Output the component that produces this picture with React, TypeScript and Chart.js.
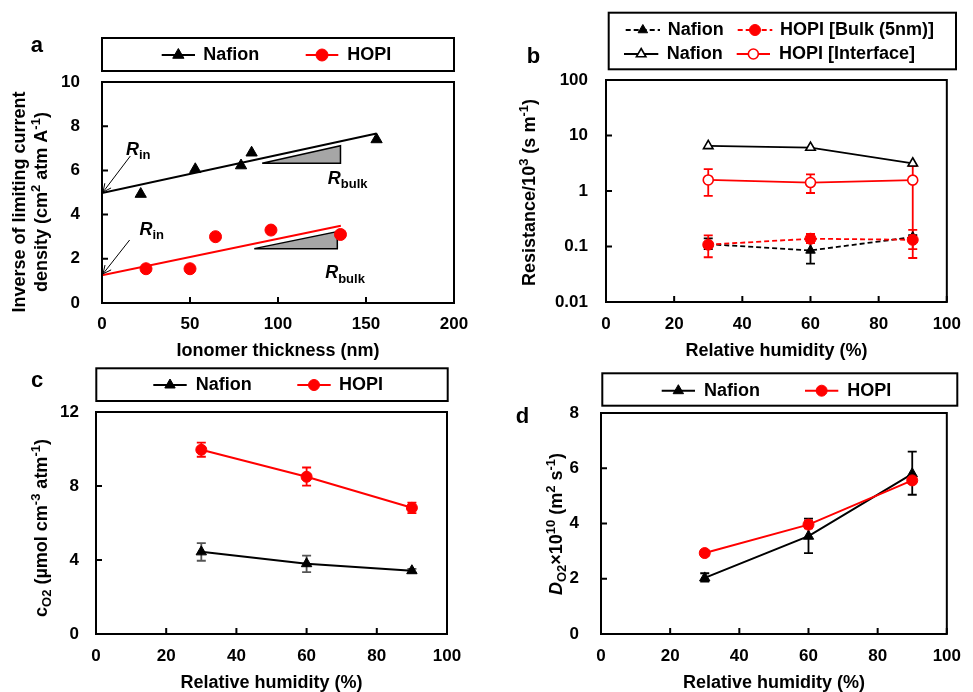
import React, { useEffect, useRef } from 'react';
import { Chart, registerables } from 'chart.js';

Chart.register(...registerables);

const FAM = "'Liberation Sans', Arial, Helvetica, sans-serif";
const RED = '#ff0000';
const BLACK = '#000000';
const GREY_FILL = '#a6a6a6';

// ---------------- Panel a : inverse of limiting current density vs ionomer thickness ----------------
const aNafionThickness = [22, 53, 79, 85, 156];
const aNafionInverse = [4.93, 6.05, 6.22, 6.8, 7.4];
const aHopiThickness = [25, 50, 64.5, 96, 135.5];
const aHopiInverse = [1.55, 1.55, 3.0, 3.3, 3.1];
const aNafionFitThickness = [0, 156];
const aNafionFitInverse = [4.98, 7.67];
const aHopiFitThickness = [0, 135.7];
const aHopiFitInverse = [1.25, 3.5];
const aNafionSlopeThickness = [91, 135.5];
const aNafionSlopeInverse = [6.32, 7.12];
const aHopiSlopeThickness = [86.5, 133.7];
const aHopiSlopeInverse = [2.46, 3.23];

// ---------------- Panel b : resistance vs relative humidity (log) ----------------
const humidity = [30, 60, 90];
const bNafionBulk = [0.11, 0.085, 0.148];
const bNafionBulkLow = [0.09, 0.049, 0.13];
const bNafionBulkHigh = [0.14, 0.13, 0.16];
const bHopiBulk = [0.108, 0.138, 0.132];
const bHopiBulkLow = [0.064, 0.115, 0.09];
const bHopiBulkHigh = [0.158, 0.168, 0.2];
const bNafionInterface = [6.5, 6.07, 3.16];
const bHopiInterface = [1.58, 1.42, 1.57];
const bHopiInterfaceLow = [0.82, 0.92, 0.062];
const bHopiInterfaceHigh = [2.47, 2.0, 2.8];
const bYTicks = [0.01, 0.1, 1, 10, 100];

// ---------------- Panel c : oxygen solubility ----------------
const cNafion = [4.44, 3.8, 3.42];
const cNafionLow = [3.96, 3.35, 3.32];
const cNafionHigh = [4.91, 4.24, 3.52];
const cHopi = [9.96, 8.5, 6.82];
const cHopiLow = [9.58, 8.02, 6.53];
const cHopiHigh = [10.34, 9.0, 7.1];

// ---------------- Panel d : oxygen diffusivity ----------------
const dNafion = [2.03, 3.54, 5.8];
const dNafionLow = [1.9, 2.93, 5.04];
const dNafionHigh = [2.2, 4.18, 6.6];
const dHopi = [2.93, 3.96, 5.56];
const dHopiLow = [2.83, 3.82, 5.45];
const dHopiHigh = [3.03, 4.1, 5.67];

// ---------------- helpers ----------------
type Seg = { t: string; sup?: boolean; sub?: boolean; it?: boolean };

const pts = (xs: number[], ys: number[]) => xs.map((x, i) => ({ x, y: ys[i] }));
const slope = (xs: number[], ys: number[]) => [
  { x: xs[0], y: ys[0] },
  { x: xs[1], y: ys[1] },
  { x: xs[1], y: ys[0] },
  { x: xs[0], y: ys[0] },
];

function fontFor(s: Seg, base: number) {
  const size = s.sup || s.sub ? Math.round(base * 0.7) : base;
  return `${s.it ? 'italic ' : ''}bold ${size}px ${FAM}`;
}

function drawRich(ctx: CanvasRenderingContext2D, segs: Seg[], x: number, y: number, rot: number, base: number, center: boolean) {
  ctx.save();
  ctx.translate(x, y);
  ctx.rotate(rot);
  ctx.textAlign = 'left';
  ctx.textBaseline = 'alphabetic';
  ctx.fillStyle = '#000';
  const widths = segs.map((s) => {
    ctx.font = fontFor(s, base);
    return ctx.measureText(s.t).width;
  });
  const total = widths.reduce((a, b) => a + b, 0);
  let cx = center ? -total / 2 : 0;
  segs.forEach((s, i) => {
    ctx.font = fontFor(s, base);
    const dy = s.sup ? -base * 0.38 : s.sub ? base * 0.24 : 0;
    ctx.fillText(s.t, cx, dy);
    cx += widths[i];
  });
  ctx.restore();
}

function drawMarker(ctx: CanvasRenderingContext2D, style: string, x: number, y: number, r: number, fill: string, stroke: string, lw: number) {
  ctx.beginPath();
  if (style === 'triangle') {
    ctx.moveTo(x, y - r);
    ctx.lineTo(x + 0.866 * r, y + 0.5 * r);
    ctx.lineTo(x - 0.866 * r, y + 0.5 * r);
    ctx.closePath();
  } else {
    ctx.arc(x, y, r, 0, Math.PI * 2);
  }
  ctx.fillStyle = fill;
  ctx.fill();
  ctx.lineWidth = lw;
  ctx.strokeStyle = stroke;
  ctx.setLineDash([]);
  ctx.stroke();
}

interface ErrSpec { ds: number; low: number[]; high: number[]; color: string }
interface LegItem { ds: number; lineDs?: number; x1: number; x2: number; y: number; tx: number }
interface TitleLine { segs: Seg[]; x: number; y: number }
interface Spec {
  letter: { t: string; x: number; y: number };
  titles: TitleLine[];
  box: { l: number; t: number; r: number; b: number };
  legend: LegItem[];
  errors: ErrSpec[];
  notes?: (chart: any, ctx: CanvasRenderingContext2D) => void;
}

function panelPlugin(spec: Spec) {
  return {
    id: 'panelDeco',
    beforeDatasetsDraw(chart: any) {
      const ctx: CanvasRenderingContext2D = chart.ctx;
      const xs = chart.scales.x;
      const ys = chart.scales.y;
      ctx.save();
      spec.errors.forEach((e) => {
        const data = chart.data.datasets[e.ds].data as { x: number; y: number }[];
        ctx.strokeStyle = e.color;
        ctx.lineWidth = 1.8;
        ctx.setLineDash([]);
        data.forEach((p, i) => {
          const px = xs.getPixelForValue(p.x);
          const y1 = ys.getPixelForValue(e.low[i]);
          const y2 = ys.getPixelForValue(e.high[i]);
          ctx.beginPath();
          ctx.moveTo(px, y1);
          ctx.lineTo(px, y2);
          ctx.moveTo(px - 4.5, y1);
          ctx.lineTo(px + 4.5, y1);
          ctx.moveTo(px - 4.5, y2);
          ctx.lineTo(px + 4.5, y2);
          ctx.stroke();
        });
      });
      ctx.restore();
    },
    afterDatasetsDraw(chart: any) {
      if (spec.notes) {
        chart.ctx.save();
        spec.notes(chart, chart.ctx);
        chart.ctx.restore();
      }
    },
    afterDraw(chart: any) {
      const ctx: CanvasRenderingContext2D = chart.ctx;
      const { left, right, top, bottom } = chart.chartArea;
      const xs = chart.scales.x;
      const ys = chart.scales.y;
      ctx.save();
      ctx.setLineDash([]);
      ctx.strokeStyle = BLACK;
      ctx.lineWidth = 2;
      // inward ticks
      ctx.beginPath();
      xs.ticks.forEach((t: any) => {
        const px = xs.getPixelForValue(t.value);
        ctx.moveTo(px, bottom);
        ctx.lineTo(px, bottom - 6);
      });
      ys.ticks.forEach((t: any) => {
        const py = ys.getPixelForValue(t.value);
        ctx.moveTo(left, py);
        ctx.lineTo(left + 6, py);
      });
      ctx.stroke();
      // plot frame
      ctx.strokeRect(left, top, right - left, bottom - top);
      // legend box
      const b = spec.box;
      ctx.strokeRect(b.l, b.t, b.r - b.l, b.b - b.t);
      spec.legend.forEach((it) => {
        const ds = chart.data.datasets[it.ds];
        const lds = chart.data.datasets[it.lineDs ?? it.ds];
        ctx.beginPath();
        ctx.strokeStyle = lds.borderColor;
        ctx.lineWidth = lds.borderWidth ?? 2;
        ctx.setLineDash(lds.borderDash ?? []);
        ctx.moveTo(it.x1, it.y);
        ctx.lineTo(it.x2, it.y);
        ctx.stroke();
        drawMarker(ctx, ds.pointStyle, (it.x1 + it.x2) / 2, it.y, ds.pointRadius, ds.pointBackgroundColor, ds.pointBorderColor, ds.pointBorderWidth ?? 1);
        ctx.fillStyle = BLACK;
        ctx.font = `bold 18px ${FAM}`;
        ctx.textAlign = 'left';
        ctx.textBaseline = 'middle';
        ctx.fillText(ds.label, it.tx, it.y);
      });
      // panel letter
      ctx.fillStyle = BLACK;
      ctx.font = `bold 22px ${FAM}`;
      ctx.textAlign = 'left';
      ctx.textBaseline = 'alphabetic';
      ctx.fillText(spec.letter.t, spec.letter.x, spec.letter.y);
      ctx.restore();
      // y titles
      spec.titles.forEach((tl) => drawRich(ctx, tl.segs, tl.x, tl.y, -Math.PI / 2, 18, true));
    },
  };
}

const tickFont = { family: FAM, size: 17, weight: 'bold' as const };

function xAxisCfg(max: number, step: number, pad: number, height: number, title: string, lh: number, padB: number) {
  return {
    type: 'linear' as const,
    min: 0,
    max,
    ticks: { stepSize: step, padding: pad, font: tickFont, color: BLACK, maxRotation: 0, autoSkip: false },
    grid: { display: false, drawTicks: false },
    border: { display: false },
    title: {
      display: true,
      text: title,
      color: BLACK,
      font: { family: FAM, size: 18, weight: 'bold' as const, lineHeight: lh },
      padding: { top: 0, bottom: padB },
    },
    afterFit: (s: any) => {
      s.height = height;
    },
  };
}

function yAxisCfg(min: number, max: number, step: number, pad: number, width: number) {
  return {
    type: 'linear' as const,
    min,
    max,
    ticks: { stepSize: step, padding: pad, font: tickFont, color: BLACK, autoSkip: false },
    grid: { display: false, drawTicks: false },
    border: { display: false },
    afterFit: (s: any) => {
      s.width = width;
    },
  };
}

function commonOptions(padding: any, x: any, y: any) {
  return {
    responsive: false,
    animation: false as const,
    devicePixelRatio: 1,
    events: [],
    layout: { padding, autoPadding: false },
    plugins: { legend: { display: false }, tooltip: { enabled: false } },
    scales: { x, y },
  };
}

const R_IN: Seg[] = [{ t: 'R', it: true }, { t: 'in', sub: true }];
const R_BULK: Seg[] = [{ t: 'R', it: true }, { t: 'bulk', sub: true }];
const aArrows = [
  { from: [16.1, 6.65], to: [0.6, 5.02] },
  { from: [15.7, 2.85], to: [0.6, 1.32] },
];
const aNotes = [
  { at: [13.6, 6.7], segs: R_IN },
  { at: [21.3, 3.08], segs: R_IN },
  { at: [128.3, 5.38], segs: R_BULK },
  { at: [126.8, 1.12], segs: R_BULK },
];

function makeA(canvas: HTMLCanvasElement) {
  const spec: Spec = {
    letter: { t: 'a', x: 30.7, y: 51.7 },
    titles: [
      { segs: [{ t: 'Inverse of limiting current' }], x: 25, y: 202 },
      {
        segs: [{ t: 'density (cm' }, { t: '2', sup: true }, { t: ' atm A' }, { t: '-1', sup: true }, { t: ')' }],
        x: 46.5,
        y: 202,
      },
    ],
    box: { l: 102, t: 38, r: 454, b: 71 },
    legend: [
      { ds: 0, lineDs: 2, x1: 161.7, x2: 195, y: 55, tx: 203.3 },
      { ds: 1, lineDs: 3, x1: 305.7, x2: 338.3, y: 55, tx: 347.3 },
    ],
    errors: [],
    notes: (chart, ctx) => {
      const xs = chart.scales.x;
      const ys = chart.scales.y;
      ctx.strokeStyle = BLACK;
      ctx.lineWidth = 1;
      ctx.setLineDash([]);
      aArrows.forEach((a) => {
        const x1 = xs.getPixelForValue(a.from[0]);
        const y1 = ys.getPixelForValue(a.from[1]);
        const x2 = xs.getPixelForValue(a.to[0]);
        const y2 = ys.getPixelForValue(a.to[1]);
        const ang = Math.atan2(y2 - y1, x2 - x1);
        ctx.beginPath();
        ctx.moveTo(x1, y1);
        ctx.lineTo(x2, y2);
        ctx.moveTo(x2, y2);
        ctx.lineTo(x2 - 9 * Math.cos(ang - 0.45), y2 - 9 * Math.sin(ang - 0.45));
        ctx.moveTo(x2, y2);
        ctx.lineTo(x2 - 9 * Math.cos(ang + 0.45), y2 - 9 * Math.sin(ang + 0.45));
        ctx.stroke();
      });
      aNotes.forEach((n) => {
        drawRich(ctx, n.segs, xs.getPixelForValue(n.at[0]), ys.getPixelForValue(n.at[1]), 0, 18, false);
      });
    },
  };
  return new Chart(canvas, {
    type: 'line',
    data: {
      datasets: [
        {
          label: 'Nafion',
          data: pts(aNafionThickness, aNafionInverse),
          showLine: false,
          pointStyle: 'triangle',
          pointRadius: 6.5,
          pointBackgroundColor: BLACK,
          pointBorderColor: BLACK,
          pointBorderWidth: 1,
          borderColor: BLACK,
        },
        {
          label: 'HOPI',
          data: pts(aHopiThickness, aHopiInverse),
          showLine: false,
          pointStyle: 'circle',
          pointRadius: 6,
          pointBackgroundColor: RED,
          pointBorderColor: RED,
          pointBorderWidth: 1,
          borderColor: RED,
        },
        { label: 'Nafion fit', data: pts(aNafionFitThickness, aNafionFitInverse), borderColor: BLACK, borderWidth: 2, pointRadius: 0 },
        { label: 'HOPI fit', data: pts(aHopiFitThickness, aHopiFitInverse), borderColor: RED, borderWidth: 2, pointRadius: 0 },
        {
          label: 'Nafion slope',
          data: slope(aNafionSlopeThickness, aNafionSlopeInverse),
          borderColor: BLACK,
          borderWidth: 1.5,
          backgroundColor: GREY_FILL,
          fill: 'shape',
          pointRadius: 0,
        },
        {
          label: 'HOPI slope',
          data: slope(aHopiSlopeThickness, aHopiSlopeInverse),
          borderColor: BLACK,
          borderWidth: 1.5,
          backgroundColor: GREY_FILL,
          fill: 'shape',
          pointRadius: 0,
        },
      ],
    } as any,
    options: commonOptions(
      { left: 0, right: 26, top: 82, bottom: 0 },
      xAxisCfg(200, 50, 11, 61, 'Ionomer thickness (nm)', 1.2, 2),
      yAxisCfg(0, 10, 2, 22, 102)
    ) as any,
    plugins: [panelPlugin(spec)],
  });
}

function makeB(canvas: HTMLCanvasElement) {
  const spec: Spec = {
    letter: { t: 'b', x: 46.7, y: 63.3 },
    titles: [
      {
        segs: [{ t: 'Resistance/10' }, { t: '3', sup: true }, { t: ' (s m' }, { t: '-1', sup: true }, { t: ')' }],
        x: 55,
        y: 192.5,
      },
    ],
    box: { l: 128.7, t: 12.7, r: 476, b: 69.3 },
    legend: [
      { ds: 2, x1: 145.7, x2: 180, y: 30, tx: 187.7 },
      { ds: 0, x1: 257.7, x2: 292.3, y: 30, tx: 300 },
      { ds: 3, x1: 144, x2: 178.3, y: 54, tx: 186.7 },
      { ds: 1, x1: 256.7, x2: 290, y: 54, tx: 299 },
    ],
    errors: [
      { ds: 1, low: bHopiInterfaceLow, high: bHopiInterfaceHigh, color: RED },
      { ds: 2, low: bNafionBulkLow, high: bNafionBulkHigh, color: BLACK },
      { ds: 0, low: bHopiBulkLow, high: bHopiBulkHigh, color: RED },
    ],
  };
  return new Chart(canvas, {
    type: 'line',
    data: {
      datasets: [
        {
          label: 'HOPI [Bulk (5nm)]',
          data: pts(humidity, bHopiBulk),
          borderColor: RED,
          borderWidth: 1.8,
          borderDash: [5, 3],
          pointStyle: 'circle',
          pointRadius: 5.5,
          pointBackgroundColor: RED,
          pointBorderColor: RED,
          pointBorderWidth: 1,
        },
        {
          label: 'HOPI [Interface]',
          data: pts(humidity, bHopiInterface),
          borderColor: RED,
          borderWidth: 1.8,
          pointStyle: 'circle',
          pointRadius: 5,
          pointBackgroundColor: '#ffffff',
          pointBorderColor: RED,
          pointBorderWidth: 1.6,
        },
        {
          label: 'Nafion',
          data: pts(humidity, bNafionBulk),
          borderColor: BLACK,
          borderWidth: 1.8,
          borderDash: [5, 3],
          pointStyle: 'triangle',
          pointRadius: 5.5,
          pointBackgroundColor: BLACK,
          pointBorderColor: BLACK,
          pointBorderWidth: 1,
        },
        {
          label: 'Nafion',
          data: pts(humidity, bNafionInterface),
          borderColor: BLACK,
          borderWidth: 1.8,
          pointStyle: 'triangle',
          pointRadius: 5.5,
          pointBackgroundColor: '#ffffff',
          pointBorderColor: BLACK,
          pointBorderWidth: 1.6,
        },
      ],
    } as any,
    options: commonOptions(
      { left: 0, right: 19, top: 80, bottom: 0 },
      xAxisCfg(100, 20, 12, 62, 'Relative humidity (%)', 1.2, 2),
      {
        type: 'logarithmic',
        min: 0.01,
        max: 100,
        afterBuildTicks: (s: any) => {
          s.ticks = bYTicks.map((v) => ({ value: v }));
        },
        ticks: { padding: 18, font: tickFont, color: BLACK, autoSkip: false, callback: (v: any) => String(v) },
        grid: { display: false, drawTicks: false },
        border: { display: false },
        afterFit: (s: any) => {
          s.width = 126;
        },
      }
    ) as any,
    plugins: [panelPlugin(spec)],
  });
}

function makeC(canvas: HTMLCanvasElement) {
  const spec: Spec = {
    letter: { t: 'c', x: 31, y: 22.7 },
    titles: [
      {
        segs: [
          { t: 'c' },
          { t: 'O2', sub: true },
          { t: ' (\u00b5mol cm' },
          { t: '-3', sup: true },
          { t: ' atm' },
          { t: '-1', sup: true },
          { t: ')' },
        ],
        x: 46.5,
        y: 164,
      },
    ],
    box: { l: 96.3, t: 4.3, r: 447.7, b: 37 },
    legend: [
      { ds: 0, x1: 153.3, x2: 186.7, y: 21, tx: 195.7 },
      { ds: 1, x1: 297.3, x2: 330.7, y: 21, tx: 339 },
    ],
    errors: [
      { ds: 0, low: cNafionLow, high: cNafionHigh, color: '#555555' },
      { ds: 1, low: cHopiLow, high: cHopiHigh, color: RED },
    ],
  };
  return new Chart(canvas, {
    type: 'line',
    data: {
      datasets: [
        {
          label: 'Nafion',
          data: pts(humidity, cNafion),
          borderColor: BLACK,
          borderWidth: 2,
          pointStyle: 'triangle',
          pointRadius: 6,
          pointBackgroundColor: BLACK,
          pointBorderColor: BLACK,
          pointBorderWidth: 1,
        },
        {
          label: 'HOPI',
          data: pts(humidity, cHopi),
          borderColor: RED,
          borderWidth: 2,
          pointStyle: 'circle',
          pointRadius: 5.5,
          pointBackgroundColor: RED,
          pointBorderColor: RED,
          pointBorderWidth: 1,
        },
      ],
    } as any,
    options: commonOptions(
      { left: 0, right: 33, top: 48, bottom: 0 },
      xAxisCfg(100, 20, 12, 58, 'Relative humidity (%)', 1.0, 0),
      yAxisCfg(0, 12, 4, 17, 96)
    ) as any,
    plugins: [panelPlugin(spec)],
  });
}

function makeD(canvas: HTMLCanvasElement) {
  const spec: Spec = {
    letter: { t: 'd', x: 35.7, y: 59.3 },
    titles: [
      {
        segs: [
          { t: 'D', it: true },
          { t: 'O2', sub: true },
          { t: '\u00d710' },
          { t: '10', sup: true },
          { t: ' (m' },
          { t: '2', sup: true },
          { t: ' s' },
          { t: '-1', sup: true },
          { t: ')' },
        ],
        x: 81.7,
        y: 160,
      },
    ],
    box: { l: 122.3, t: 9.3, r: 477.3, b: 41.7 },
    legend: [
      { ds: 1, x1: 181.7, x2: 215, y: 26.7, tx: 224 },
      { ds: 0, x1: 325, x2: 358.3, y: 26.7, tx: 367.3 },
    ],
    errors: [
      { ds: 1, low: dNafionLow, high: dNafionHigh, color: BLACK },
      { ds: 0, low: dHopiLow, high: dHopiHigh, color: RED },
    ],
  };
  return new Chart(canvas, {
    type: 'line',
    data: {
      datasets: [
        {
          label: 'HOPI',
          data: pts(humidity, dHopi),
          borderColor: RED,
          borderWidth: 2,
          pointStyle: 'circle',
          pointRadius: 5.5,
          pointBackgroundColor: RED,
          pointBorderColor: RED,
          pointBorderWidth: 1,
        },
        {
          label: 'Nafion',
          data: pts(humidity, dNafion),
          borderColor: BLACK,
          borderWidth: 2,
          pointStyle: 'triangle',
          pointRadius: 6,
          pointBackgroundColor: BLACK,
          pointBorderColor: BLACK,
          pointBorderWidth: 1,
        },
      ],
    } as any,
    options: commonOptions(
      { left: 0, right: 17, top: 49, bottom: 0 },
      xAxisCfg(100, 20, 12, 58, 'Relative humidity (%)', 1.0, 0),
      yAxisCfg(0, 8, 2, 22, 121)
    ) as any,
    plugins: [panelPlugin(spec)],
  });
}

function Panel(props: { left: number; top: number; width: number; height: number; make: (c: HTMLCanvasElement) => Chart }) {
  const ref = useRef<HTMLCanvasElement>(null);
  useEffect(() => {
    const chart = props.make(ref.current as HTMLCanvasElement);
    return () => chart.destroy();
  }, []);
  return (
    <canvas
      ref={ref}
      width={props.width}
      height={props.height}
      style={{ position: 'absolute', left: props.left, top: props.top, width: props.width, height: props.height }}
    />
  );
}

export default function App() {
  return (
    <div style={{ position: 'absolute', left: 0, top: 0, width: 973, height: 692, background: '#ffffff', overflow: 'hidden' }}>
      <Panel left={0} top={0} width={480} height={364} make={makeA} />
      <Panel left={480} top={0} width={493} height={364} make={makeB} />
      <Panel left={0} top={364} width={480} height={328} make={makeC} />
      <Panel left={480} top={364} width={493} height={328} make={makeD} />
    </div>
  );
}
